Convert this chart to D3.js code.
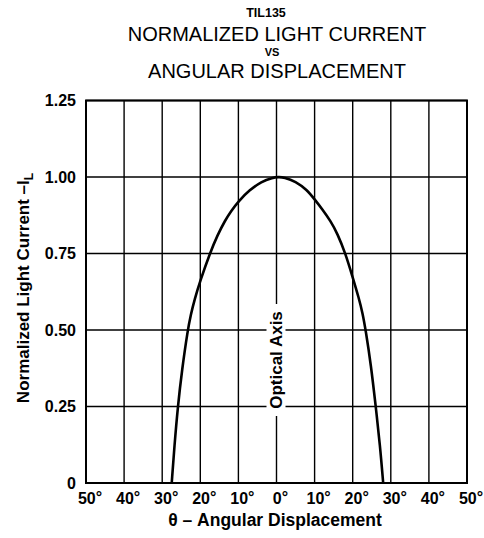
<!DOCTYPE html>
<meta charset="utf-8">
<style>
body { margin: 0; background: #fff; }
text { font-family: "Liberation Sans", Arial, sans-serif; fill: #000; }
.grid line { stroke: #000; stroke-width: 1.4; }
.tick-lbl { font-weight: bold; font-size: 16px; }
</style>
<body>
<script src="https://cdn.jsdelivr.net/npm/d3@7"></script>
<script>

// curve
var angles = [-27.5, -26.8, -25.9, -24.8, -23.3, -22.5, -21.5, -20, -17.5, -15.5, -13.4, -12, -10, -7, -4, -1, 0.5,
              2, 5, 8, 10, 12, 14.2, 16, 18.1, 20, 21.6, 22.6, 23.4, 24.8, 26, 27.2, 28];
var current = [0, 0.12, 0.25, 0.37, 0.5, 0.55, 0.6, 0.662, 0.75, 0.81, 0.86, 0.887, 0.921, 0.958, 0.985, 0.998, 1.0,
               0.999, 0.986, 0.958, 0.927, 0.895, 0.856, 0.815, 0.75, 0.672, 0.605, 0.555, 0.5, 0.385, 0.255, 0.12, 0];

var xTicks = [-50, -40, -30, -20, -10, 0, 10, 20, 30, 40, 50];
var xTickLabels = ["50", "40", "30", "20", "10", "0", "10", "20", "30", "40", "50"];
var yTicks = [0, 0.25, 0.5, 0.75, 1.0, 1.25];
var yTickLabels = ["0", "0.25", "0.50", "0.75", "1.00", "1.25"];

var W = 484, H = 538;
var pLeft = 86, pRight = 467, pTop = 100.5, pBottom = 483;

var svg = d3.select("body").append("svg")
    .attr("width", W)
    .attr("height", H);

var x = d3.scaleLinear().domain([-50, 50]).range([pLeft, pRight]);
var y = d3.scaleLinear().domain([0, 1.25]).range([pBottom, pTop]);

// titles
svg.append("text").attr("x", 266).attr("y", 17).attr("text-anchor", "middle")
  .style("font-weight", "bold").style("font-size", "12.5px").text("TIL135");
svg.append("text").attr("x", 277).attr("y", 41).attr("text-anchor", "middle")
  .style("font-size", "20px").text("NORMALIZED LIGHT CURRENT");
svg.append("text").attr("x", 272).attr("y", 56).attr("text-anchor", "middle")
  .style("font-weight", "bold").style("font-size", "11px").text("VS");
svg.append("text").attr("x", 277).attr("y", 78).attr("text-anchor", "middle")
  .style("font-size", "20px").text("ANGULAR DISPLACEMENT");

// grid
var g = svg.append("g").attr("class", "grid");
g.selectAll(".vl").data(xTicks).enter().append("line")
    .attr("x1", function(d) { return x(d); })
    .attr("x2", function(d) { return x(d); })
    .attr("y1", y(0)).attr("y2", y(1.25));
g.selectAll(".hl").data(yTicks).enter().append("line")
    .attr("y1", function(d) { return y(d); })
    .attr("y2", function(d) { return y(d); })
    .attr("x1", x(-50)).attr("x2", x(50));

svg.append("rect")
    .attr("x", x(-50)).attr("y", y(1.25))
    .attr("width", x(50) - x(-50)).attr("height", y(0) - y(1.25))
    .attr("fill", "none").attr("stroke", "#000").attr("stroke-width", 2);

// optical axis label, with a gap in the 0 degree line
var axY = 360;
svg.append("rect").attr("x", x(0) - 10).attr("y", axY - 56)
    .attr("width", 19).attr("height", 112).attr("fill", "#fff");
svg.append("text")
    .attr("transform", "translate(" + (x(0) + 5.5) + "," + axY + ") rotate(-90)")
    .attr("text-anchor", "middle")
    .style("font-weight", "bold").style("font-size", "17px")
    .text("Optical Axis");

// curve
var pts = angles.map(function(a, i) { return [a, current[i]]; });
var line = d3.line()
    .x(function(d) { return x(d[0]); })
    .y(function(d) { return y(d[1]); })
    .curve(d3.curveBasis);
svg.append("path").datum(pts)
    .attr("d", line)
    .attr("fill", "none").attr("stroke", "#000").attr("stroke-width", 2.6);

// y tick labels
svg.selectAll(".ylbl").data(yTicks).enter().append("text")
    .attr("class", "tick-lbl")
    .attr("x", 76)
    .attr("y", function(d) { return y(d) + 5.5; })
    .attr("text-anchor", "end")
    .text(function(d, i) { return yTickLabels[i]; });

// x tick labels
var xl = svg.selectAll(".xlbl").data(xTicks).enter().append("text")
    .attr("class", "tick-lbl")
    .attr("x", function(d) { return x(d); })
    .attr("y", 504)
    .attr("text-anchor", "middle")
    .attr("dx", 4);
xl.append("tspan").text(function(d, i) { return xTickLabels[i]; });
xl.append("tspan").attr("dy", -1).text("\u00b0");

// axis titles
svg.append("text").attr("x", 275).attr("y", 526).attr("text-anchor", "middle")
  .style("font-weight", "bold").style("font-size", "17.5px")
  .text("\u03b8 \u2013 Angular Displacement");

var yt = svg.append("text")
    .attr("transform", "translate(29,288) rotate(-90)")
    .attr("text-anchor", "middle")
    .style("font-weight", "bold").style("font-size", "17px");
yt.append("tspan").text("Normalized Light Current \u2013I");
yt.append("tspan").attr("dy", 4).style("font-size", "12px").text("L");

</script>
</body>
